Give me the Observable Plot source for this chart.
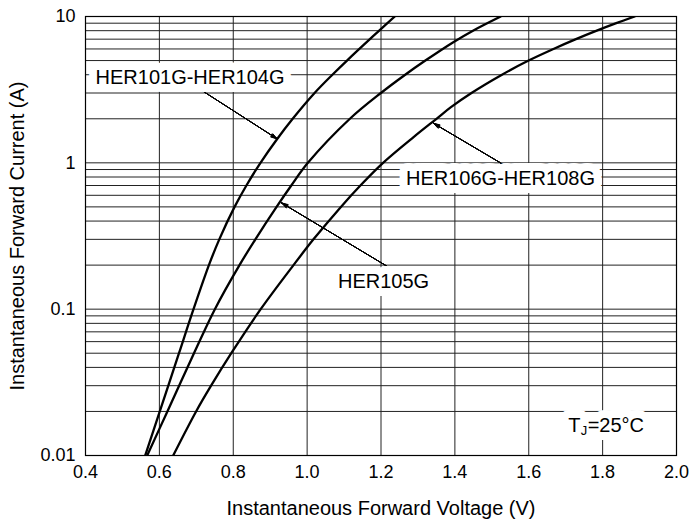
<!DOCTYPE html>
<html>
<head>
<meta charset="utf-8">
<script src="https://cdn.jsdelivr.net/npm/d3@7"></script>
<script src="https://cdn.jsdelivr.net/npm/@observablehq/plot@0.6"></script>
<style>
  html, body { margin: 0; padding: 0; background: #fff; }
</style>
</head>
<body>
<div id="chart"></div>
<script>
// ---- data ----
const seriesNames = ["HER101G-HER104G", "HER105G", "HER106G-HER108G"];

const voltsA = [0.5616, 0.6011, 0.6531, 0.6924, 0.7341, 0.7622, 0.8036, 0.8356, 0.8737, 0.9184, 0.9609, 1.0202, 1.0684, 1.1079, 1.1699, 1.1951, 1.2373];
const ampsA  = [0.01, 0.02, 0.05, 0.1, 0.2, 0.3, 0.5, 0.7, 1.0, 1.45, 2.0, 3.0, 4.0, 5.0, 7.0, 8.0, 10];

const voltsB = [0.5670, 0.6217, 0.6937, 0.7503, 0.8169, 0.8599, 0.9173, 0.9571, 1.0021, 1.1158, 1.1997, 1.2655, 1.3201, 1.3946, 1.4490, 1.5240];
const ampsB  = [0.01, 0.02, 0.05, 0.1, 0.2, 0.3, 0.5, 0.7, 1.0, 2.0, 3.0, 4.0, 5.0, 6.65, 8.0, 10];

const voltsC = [0.6374, 0.6994, 0.7400, 0.7947, 0.8743, 0.9631, 1.0172, 1.0914, 1.1442, 1.2056, 1.2882, 1.3502, 1.3894, 1.4449, 1.5275, 1.5995, 1.6669, 1.7278, 1.7841, 1.8369, 1.8867];
const ampsC  = [0.01, 0.02, 0.03, 0.05, 0.1, 0.2, 0.3, 0.5, 0.7, 1.0, 1.5, 2.0, 2.4, 3.0, 4.0, 5.0, 6.0, 7.0, 8.0, 9.0, 10];

const xTicks = [0.4, 0.6, 0.8, 1.0, 1.2, 1.4, 1.6, 1.8, 2.0];
const yTicks = [0.01, 0.1, 1, 10];
const yTickLabels = ["0.01", "0.1", "1", "10"];
const xGridValues = [0.6, 0.8, 1.0, 1.2, 1.4, 1.6, 1.8];
const yGridValues = [0.02, 0.03, 0.04, 0.05, 0.06, 0.07, 0.08, 0.09, 0.1,
                     0.2, 0.3, 0.4, 0.5, 0.6, 0.7, 0.8, 0.9, 1,
                     2, 3, 4, 5, 6, 7, 8, 9];

const xTitle = "Instantaneous Forward Voltage (V)";
const yTitle = "Instantaneous Forward Current (A)";

// annotation anchors, in data units (V, A)
const labelTexts = ["HER101G-HER104G", "HER105G", "HER106G-HER108G"];
const labelV = [0.683, 1.207, 1.5235];
const labelI = [3.85, 0.155, 0.775];

const arrowFromV = [0.711, 1.217, 1.528];
const arrowFromI = [3.17, 0.196, 0.984];
const arrowToV   = [0.919, 0.931, 1.342];
const arrowToI   = [1.458, 0.532, 1.864];

const tjParts = ["T", "J", "=25°C"];
const tjV = 1.7067;
const tjI = 0.0161;

// ---- build tables ----
const curves = [
  ...voltsA.map((v, i) => ({series: seriesNames[0], v, a: ampsA[i]})),
  ...voltsB.map((v, i) => ({series: seriesNames[1], v, a: ampsB[i]})),
  ...voltsC.map((v, i) => ({series: seriesNames[2], v, a: ampsC[i]}))
];
const labels = labelTexts.map((t, i) => ({t, v: labelV[i], a: labelI[i]}));
const arrows = arrowFromV.map((v, i) => ({v1: v, a1: arrowFromI[i], v2: arrowToV[i], a2: arrowToI[i]}));
const tj = [{v: tjV, a: tjI}];

const font = "'Liberation Sans', Arial, Helvetica, sans-serif";
const gridStyle = {stroke: "#222", strokeOpacity: 1, strokeWidth: 1};

const arrowMarks = [34, 26, 18, 10, 3].map(angle =>
  Plot.arrow(arrows, {x1: "v1", y1: "a1", x2: "v2", y2: "a2",
    headLength: 10, headAngle: angle, stroke: "#000", strokeWidth: 1})
);

const halo = {stroke: "white", strokeWidth: 16, paintOrder: "stroke", fill: "#000"};

const chart = Plot.plot({
  width: 690,
  height: 525,
  marginLeft: 85,
  marginRight: 14,
  marginTop: 16,
  marginBottom: 70,
  style: {fontFamily: font, fontSize: "18px", color: "#000", background: "#fff"},
  x: {domain: [0.4, 2.0]},
  y: {type: "log", domain: [0.01, 10]},
  marks: [
    Plot.gridX(xGridValues, gridStyle),
    Plot.gridY(yGridValues, gridStyle),
    Plot.line(curves, {x: "v", y: "a", z: "series", curve: "catmull-rom",
      stroke: "#000", strokeWidth: 2.3, clip: true}),
    ...arrowMarks,
    Plot.text(labels, {x: "v", y: "a", text: "t", fontSize: 20, ...halo}),
    Plot.text(tj, {x: "v", y: "a", text: () => tjParts[2], textAnchor: "start", fontSize: 20, dx: 19.5, ...halo}),
    Plot.text(tj, {x: "v", y: "a", text: () => tjParts[0], textAnchor: "start", fontSize: 20, ...halo}),
    Plot.text(tj, {x: "v", y: "a", text: () => tjParts[1], textAnchor: "start", fontSize: 13, dx: 12.5, dy: 6, fill: "#000"}),
    Plot.frame({stroke: "#000", strokeWidth: 1.2}),
    Plot.axisX(xTicks, {tickSize: 0, tickPadding: 10, tickFormat: d => d.toFixed(1), label: null, fontSize: 18}),
    Plot.axisY(yTicks, {tickSize: 0, tickPadding: 10, tickFormat: (d) => yTickLabels[yTicks.indexOf(d)], label: null, fontSize: 18}),
    Plot.text([xTitle], {frameAnchor: "bottom", dy: 53, lineAnchor: "middle", textAnchor: "middle", fontSize: 20, fill: "#000"}),
    Plot.text([yTitle], {frameAnchor: "left", rotate: -90, dx: -68, lineAnchor: "middle", textAnchor: "middle", fontSize: 20, fill: "#000"})
  ]
});

document.getElementById("chart").appendChild(chart);
</script>
</body>
</html>
